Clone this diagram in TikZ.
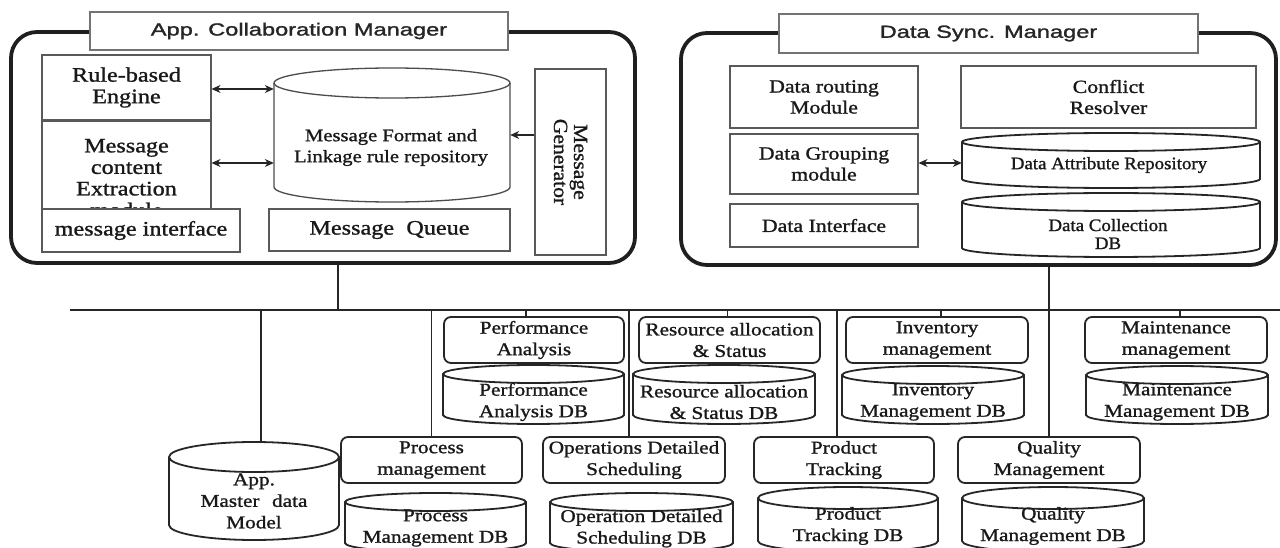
\documentclass[tikz,border=0pt]{standalone}
\usepackage{fontspec}
\setmainfont{Liberation Serif}[FakeStretch=1.18, FakeBold=1.2]
\newfontfamily\condserif{Liberation Serif}[FakeStretch=1.08, FakeBold=1.2]
\newfontfamily\titlesans{Liberation Sans}[FakeStretch=1.35, FakeBold=1.5]
\usetikzlibrary{arrows.meta}

% database cylinder: [style]{name}{x1}{y1}{x2}{y2}{ellipse half-height}
\newcommand\dbcyl[7][]{%
  \pgfmathsetmacro\cylR{(#5-#3)/2}%
  \pgfmathsetmacro\cylX{(#5+#3)/2}%
  \pgfmathsetmacro\cylY{(#4+#6)/2}%
  \pgfmathsetmacro\cylW{#5-#3}%
  \pgfmathsetmacro\cylH{#6-#4}%
  \node[inner sep=0pt, minimum width=\cylW pt, minimum height=\cylH pt] (#2) at (\cylX,\cylY) {};
  \filldraw[fill=white, #1] (#3,#4+#7) -- (#3,#6-#7)
     arc[start angle=180, end angle=360, x radius=\cylR pt, y radius=#7 pt]
     -- (#5,#4+#7)
     arc[start angle=0, end angle=180, x radius=\cylR pt, y radius=#7 pt] -- cycle;
  \draw[#1] (#3,#4+#7) arc[start angle=180, end angle=360, x radius=\cylR pt, y radius=#7 pt];
}

\tikzset{
  panel/.style={draw=black!88, line width=3.8pt, rounded corners=26pt, inner sep=0pt},
  ttl/.style={draw=black!55, line width=1.2pt, fill=white, inner sep=0pt,
    font=\titlesans\fontsize{17.5}{20}\selectfont, text=black!85},
  ibox/.style={draw=black!65, line width=1.1pt, fill=white, inner sep=0pt, align=center,
    font=\fontsize{18.5}{21}\selectfont, text=black!90},
  bigtext/.style={font=\fontsize{20.5}{21.5}\selectfont},
  rbox/.style={draw=black!85, line width=1.8pt, rounded corners=7pt, fill=white,
    inner sep=0pt, minimum height=46pt, align=center, font=\fontsize{18}{21.5}\selectfont, text=black!90},
  txt/.style={inner sep=0pt, align=center, font=\fontsize{18}{21.5}\selectfont, text=black!90},
  cylthin/.style={draw=black!70, line width=1.3pt},
  cylthick/.style={draw=black!85, line width=1.8pt},
  link/.style={draw=black!85, line width=1.6pt},
  busline/.style={draw=black!85, line width=2.4pt},
  tip/.style={Stealth[length=9pt,width=8pt]},
  biarrow/.style={{Stealth[length=9pt,width=8pt]}-{Stealth[length=9pt,width=8pt]}, line width=1.2pt, draw=black!85},
  onearrow/.style={-{Stealth[length=9pt,width=8pt]}, line width=1.2pt, draw=black!85},
}

\begin{document}
\begin{tikzpicture}[x=1pt, y=-1pt]
\fill[white] (0,0) rectangle (1280,548);
\useasboundingbox (0,0) rectangle (1280,548);

% ---------------- App. Collaboration Manager ----------------
\node[panel, minimum width=624pt, minimum height=231pt] (acm) at (323,147.5) {};
\node[ttl, minimum width=418pt, minimum height=38pt] (acmt) at (299,31) {App. Collaboration Manager};

\node[ibox, bigtext, minimum width=169pt, minimum height=65pt] (rbe) at (126.5,87.5) {Rule-based\\Engine};
\node[ibox, bigtext, minimum width=169pt, minimum height=114pt] (mce) at (126.5,178) {Message\\content\\Extraction\\module};
\node[ibox, bigtext, minimum width=198pt, minimum height=43pt] (mif) at (141,230.5) {message interface};

\dbcyl[cylthin]{mfr}{274}{68}{510}{202}{15}
\node[txt, font=\fontsize{17.5}{21}\selectfont] (mfrt) at (391,147.5) {Message Format and\\Linkage rule repository};

\node[ibox, bigtext, minimum width=241pt, minimum height=42pt] (mq) at (389.5,230) {Message\hspace{0.6em}Queue};
\node[ibox, rotate=-90, minimum width=186pt, minimum height=71pt,
      font=\condserif\fontsize{20}{20}\selectfont] (mg) at (570.5,162) {Message\\Generator};

\draw[biarrow] (rbe.east |- 0,89) -- (mfr.west |- 0,89);
\draw[biarrow] (mce.east |- 0,163) -- (mfr.west |- 0,163);
\draw[onearrow] (mg.south |- 0,135) -- (mfr.east |- 0,135);

% ---------------- Data Sync. Manager ----------------
\node[panel, minimum width=595pt, minimum height=232pt] (dsm) at (978.5,149) {};
\node[ttl, minimum width=419pt, minimum height=39pt] (dsmt) at (988.5,33.5) {Data Sync. Manager};

\node[ibox, minimum width=188pt, minimum height=62pt] (drm) at (824,97) {Data routing\\Module};
\node[ibox, minimum width=295pt, minimum height=62pt] (cr) at (1108.5,97) {Conflict\\Resolver};
\node[ibox, minimum width=188pt, minimum height=60pt] (dgm) at (824,164) {Data Grouping\\module};
\node[ibox, minimum width=188pt, minimum height=43pt] (di) at (824,225.5) {Data Interface};

\dbcyl[cylthick]{dar}{962}{133}{1260}{188}{9}
\node[txt, font=\condserif\fontsize{17.5}{18}\selectfont] (dart) at (1109,165) {Data Attribute Repository};
\dbcyl[cylthick]{dcdb}{962}{193}{1260}{257}{9}
\node[txt, font=\condserif\fontsize{17.5}{18}\selectfont] (dcdbt) at (1108,234) {Data Collection\\DB};

\draw[biarrow] (dgm.east |- 0,163) -- (dar.west |- 0,163);

% ---------------- shared bus ----------------
\coordinate (busL) at (70,310);
\coordinate (busR) at (1280,310);
\coordinate (jA) at (338,310);
\draw[busline] (busL) -- (busR);
\draw[link] (acm.south -| jA) -- (jA);

% ---------------- upper row of applications ----------------
\node[rbox, minimum width=180pt] (pa) at (534,340) {Performance\\Analysis};
\node[rbox, minimum width=181pt] (ras) at (729.5,340) {Resource allocation\\\& Status};
\node[rbox, minimum width=182pt] (im) at (937,340) {Inventory\\management};
\node[rbox, minimum width=182pt] (mm) at (1176,340) {Maintenance\\management};

\dbcyl[cylthick]{padb}{443}{365}{624}{424}{9}
\node[txt] (padbt) at (533.5,402) {Performance\\Analysis DB};
\dbcyl[cylthick]{rasdb}{633}{365}{815}{424}{9}
\node[txt] (rasdbt) at (724,402) {Resource allocation\\\& Status DB};
\dbcyl[cylthick]{imdb}{842}{366}{1024}{424}{9}
\node[txt] (imdbt) at (933,402) {Inventory\\Management DB};
\dbcyl[cylthick]{mmdb}{1086}{366}{1268}{424}{9}
\node[txt] (mmdbt) at (1177,402) {Maintenance\\Management DB};

% ---------------- lower row of applications ----------------
\dbcyl[cylthick]{amd}{169}{442}{339}{540}{15}
\node[txt] (amdt) at (254,501) {App.\\Master\hspace{0.4em} data\\Model};

\node[rbox, minimum width=181pt] (pm) at (431.5,460) {Process\\management};
\node[rbox, minimum width=182pt] (ods) at (634,460) {Operations Detailed\\Scheduling};
\node[rbox, minimum width=180pt] (pt) at (844,460) {Product\\Tracking};
\node[rbox, minimum width=182pt] (qm) at (1049,460) {Quality\\Management};

\dbcyl[cylthick]{pmdb}{345}{493}{526}{552}{9}
\node[txt] (pmdbt) at (435.5,528) {Process\\Management DB};
\dbcyl[cylthick]{odsdb}{550}{493}{733}{552}{9}
\node[txt] (odsdbt) at (641.5,528.5) {Operation Detailed\\Scheduling DB};
\dbcyl[cylthick]{ptdb}{758}{487}{938}{552}{11}
\node[txt] (ptdbt) at (848,526) {Product\\Tracking DB};
\dbcyl[cylthick]{qmdb}{962}{487}{1144}{552}{11}
\node[txt] (qmdbt) at (1053,526) {Quality\\Management DB};

% ---------------- drops from the bus ----------------
\draw[link] ([xshift=7pt]amd.north) -- ([xshift=7pt]amd.north |- busL);
\draw[link] (pm.north) -- (pm.north |- busL);
\draw[link] ([xshift=-5pt]ods.north) -- ([xshift=-5pt]ods.north |- busL);
\draw[link] ([xshift=-7pt]pt.north) -- ([xshift=-7pt]pt.north |- busL);
\draw[link] (dsm.south -| qm.north) -- (qm.north);

\draw[link] ([xshift=-8pt]pa.north) -- ([xshift=-8pt]pa.north |- busL);
\draw[link] ([xshift=-2pt]ras.north) -- ([xshift=-2pt]ras.north |- busL);
\draw[link] ([xshift=4pt]im.north) -- ([xshift=4pt]im.north |- busL);
\draw[link] ([xshift=4pt]mm.north) -- ([xshift=4pt]mm.north |- busL);
\end{tikzpicture}
\end{document}
